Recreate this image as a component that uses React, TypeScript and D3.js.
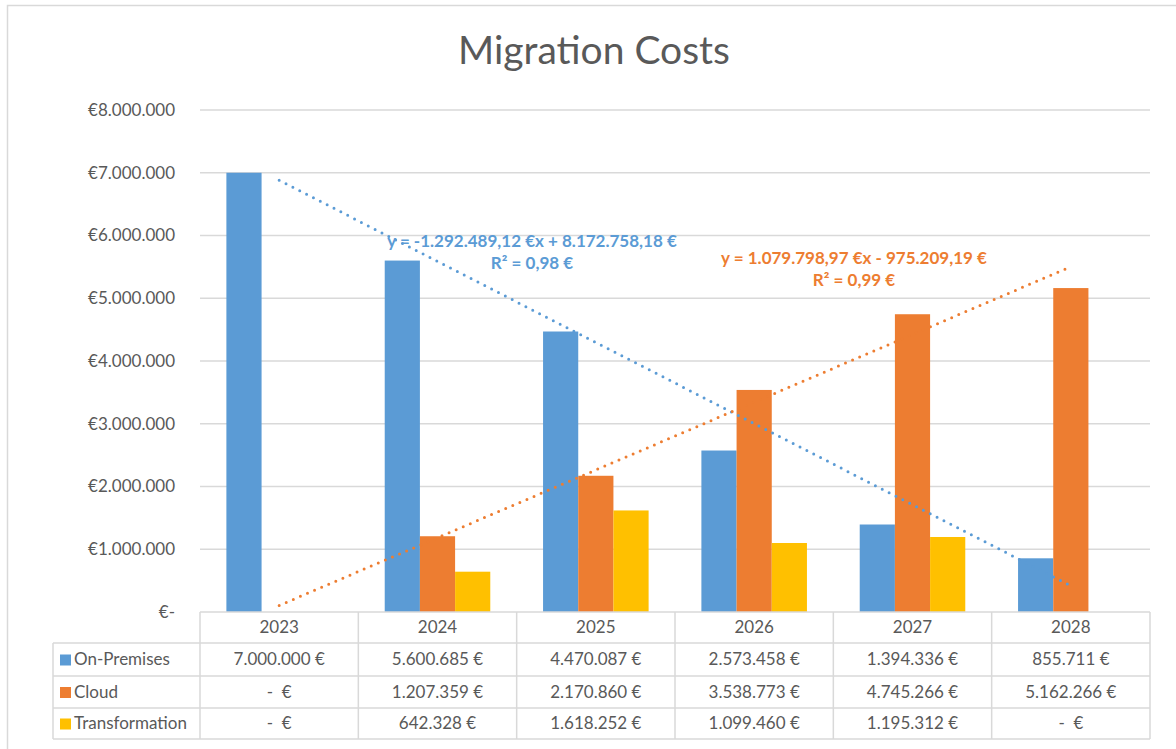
import React from 'react';
import * as d3 from 'd3';

const years = ['2023', '2024', '2025', '2026', '2027', '2028'];
const seriesNames = ['On-Premises', 'Cloud', 'Transformation'];
const onPremises = [7000000, 5600685, 4470087, 2573458, 1394336, 855711];
const cloud = [0, 1207359, 2170860, 3538773, 4745266, 5162266];
const transformation = [0, 642328, 1618252, 1099460, 1195312, 0];
const colors = ['#5B9BD5', '#ED7D31', '#FFC000'];
const yTicks = [0, 1000000, 2000000, 3000000, 4000000, 5000000, 6000000, 7000000, 8000000];

// linear trendlines as shown on the chart (x = 1..6)
const trendSlope = [-1292489.12, 1079798.97];
const trendIntercept = [8172758.18, -975209.19];
const trendLabels = [
  ['y = -1.292.489,12 €x + 8.172.758,18 €', 'R² = 0,98 €'],
  ['y = 1.079.798,97 €x - 975.209,19 €', 'R² = 0,99 €'],
];

const FONT = 'Lato, Carlito, Calibri, sans-serif';
const TEXT = '#595959';
const GRID = '#D9D9D9';

const de = d3.formatLocale({ decimal: ',', thousands: '.', grouping: [3], currency: ['€', ''] });
const fmtNum = de.format(',.0f');
const tickLabel = (v: number) => (v === 0 ? '€-' : '€' + fmtNum(v));
const cellLabel = (v: number) => (v === 0 ? '-  €' : fmtNum(v) + ' €');

export default function App() {
  const width = 1176;
  const height = 749;
  const left = 200;
  const right = 1150;
  const top = 110;
  const bottom = 612;

  const series = [onPremises, cloud, transformation];

  const x = d3.scaleBand<string>().domain(years).range([left, right]).paddingInner(0).paddingOuter(0);
  const bw = x.bandwidth();
  const groupW = (bw * 3) / 4.5;
  const x1 = d3.scaleBand<number>().domain([0, 1, 2]).range([0, groupW]).padding(0);
  const y = d3.scaleLinear().domain([0, 8000000]).range([bottom, top]);

  const rowTops = [bottom + 31, bottom + 64, bottom + 96];
  const tableBottom = bottom + 127;

  return (
    <svg width={width} height={height} style={{ position: 'absolute', left: 0, top: 0, background: '#fff' }} fontFamily={FONT}>
      <rect x={7.5} y={5.5} width={1200} height={800} fill="#fff" stroke={GRID} strokeWidth={1.5} />
      <text x={594} y={54} textAnchor="middle" dominantBaseline="middle" fontSize={39} fill={TEXT}>
        Migration Costs
      </text>

      {yTicks.map((t) => (
        <g key={t}>
          {t > 0 && <line x1={left} x2={right} y1={y(t)} y2={y(t)} stroke={GRID} strokeWidth={1.5} />}
          <text x={175} y={y(t)} dy="0.35em" textAnchor="end" fontSize={17} fill={TEXT}>
            {tickLabel(t)}
          </text>
        </g>
      ))}

      {years.map((yr, i) => (
        <g key={yr} transform={`translate(${(x(yr) as number) + (bw - groupW) / 2},0)`}>
          {series.map((s, j) =>
            s[i] > 0 ? (
              <rect key={j} x={x1(j)} y={y(s[i])} width={x1.bandwidth()} height={bottom - y(s[i])} fill={colors[j]} />
            ) : null
          )}
        </g>
      ))}

      {trendSlope.map((m, k) => {
        const pts = years.map((yr, i) => [(x(yr) as number) + bw / 2, y(m * (i + 1) + trendIntercept[k])] as [number, number]);
        const first = pts[0];
        const last = pts[pts.length - 1];
        return (
          <line
            key={k}
            x1={first[0]}
            y1={first[1]}
            x2={last[0]}
            y2={last[1]}
            stroke={colors[k]}
            strokeWidth={3}
            strokeDasharray="0 7.7"
            strokeLinecap="round"
          />
        );
      })}

      <g fontSize={17} fontWeight="bold" textAnchor="middle">
        <text x={532} y={241} dy="0.35em" fill={colors[0]}>{trendLabels[0][0]}</text>
        <text x={532} y={263} dy="0.35em" fill={colors[0]}>{trendLabels[0][1]}</text>
        <text x={854} y={258} dy="0.35em" fill={colors[1]}>{trendLabels[1][0]}</text>
        <text x={854} y={280} dy="0.35em" fill={colors[1]}>{trendLabels[1][1]}</text>
      </g>

      {/* data table */}
      <g stroke={GRID} strokeWidth={1.5}>
        <line x1={left} x2={right} y1={bottom} y2={bottom} />
        {rowTops.map((ry) => (
          <line key={ry} x1={53} x2={right} y1={ry} y2={ry} />
        ))}
        <line x1={53} x2={right} y1={tableBottom} y2={tableBottom} />
        <line x1={53} x2={53} y1={rowTops[0]} y2={tableBottom} />
        {years.map((yr) => (
          <line key={yr} x1={x(yr)} x2={x(yr)} y1={bottom} y2={tableBottom} />
        ))}
        <line x1={right} x2={right} y1={bottom} y2={tableBottom} />
      </g>
      <g fontSize={17} fill={TEXT}>
        {years.map((yr) => (
          <text key={yr} x={(x(yr) as number) + bw / 2} y={(bottom + rowTops[0]) / 2} dy="0.35em" textAnchor="middle">
            {yr}
          </text>
        ))}
        {seriesNames.map((name, j) => {
          const cy = (rowTops[j] + (rowTops[j + 1] ?? tableBottom)) / 2;
          return (
            <g key={name}>
              <rect x={60} y={cy - 5} width={11} height={11} fill={colors[j]} />
              <text x={74} y={cy} dy="0.35em">{name}</text>
              {years.map((yr, i) => (
                <text key={yr} x={(x(yr) as number) + bw / 2} y={cy} dy="0.35em" textAnchor="middle" style={{ whiteSpace: 'pre' }}>
                  {cellLabel(series[j][i])}
                </text>
              ))}
            </g>
          );
        })}
      </g>
    </svg>
  );
}
